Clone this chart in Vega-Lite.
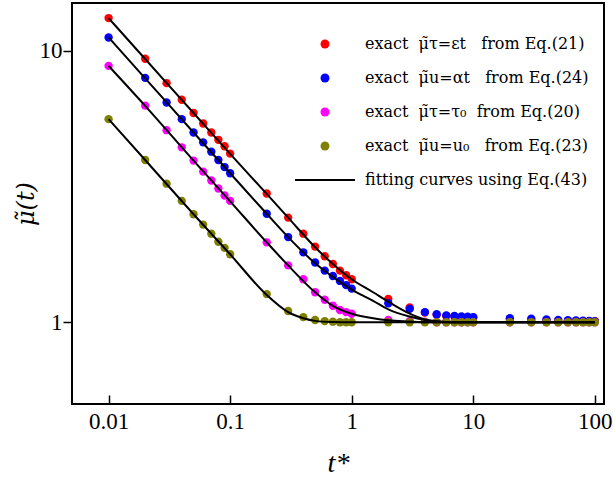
{
  "$schema": "https://vega.github.io/schema/vega-lite/v6.json",
  "autosize": "none",
  "padding": {"left": 72, "top": 3, "right": 11, "bottom": 76},
  "width": 532,
  "height": 401,
  "config": {
    "view": {"stroke": "black", "strokeWidth": 2},
    "font": "Liberation Serif",
    "axis": {
      "domain": false,
      "grid": false,
      "tickColor": "black",
      "tickWidth": 1.5,
      "labelColor": "black",
      "labelFont": "Liberation Serif",
      "labelFontSize": 23,
      "titleColor": "black",
      "titleFont": "Liberation Serif",
      "titleFontStyle": "italic",
      "titleFontWeight": "normal",
      "titleFontSize": 27
    },
    "legend": {
      "labelFont": "DejaVu Serif",
      "labelFontSize": 16,
      "labelColor": "black",
      "labelLimit": 400
    }
  },
  "datasets": {
    "pts": [
      {"t": 0.01, "mu": 13.2, "s": "r"}, {"t": 0.02, "mu": 9.35, "s": "r"}, {"t": 0.03, "mu": 7.6, "s": "r"}, {"t": 0.04, "mu": 6.6, "s": "r"}, {"t": 0.05, "mu": 5.9, "s": "r"}, {"t": 0.06, "mu": 5.4, "s": "r"}, {"t": 0.07, "mu": 5.0, "s": "r"}, {"t": 0.08, "mu": 4.7, "s": "r"}, {"t": 0.09, "mu": 4.45, "s": "r"}, {"t": 0.1, "mu": 4.18, "s": "r"},
      {"t": 0.2, "mu": 2.98, "s": "r"}, {"t": 0.3, "mu": 2.43, "s": "r"}, {"t": 0.4, "mu": 2.12, "s": "r"}, {"t": 0.5, "mu": 1.9, "s": "r"}, {"t": 0.6, "mu": 1.75, "s": "r"}, {"t": 0.7, "mu": 1.64, "s": "r"}, {"t": 0.8, "mu": 1.55, "s": "r"}, {"t": 0.9, "mu": 1.49, "s": "r"}, {"t": 1, "mu": 1.44, "s": "r"},
      {"t": 2, "mu": 1.22, "s": "r"}, {"t": 3, "mu": 1.135, "s": "r"}, {"t": 4, "mu": 1.085, "s": "r"}, {"t": 5, "mu": 1.065, "s": "r"}, {"t": 6, "mu": 1.055, "s": "r"}, {"t": 7, "mu": 1.05, "s": "r"}, {"t": 8, "mu": 1.045, "s": "r"}, {"t": 9, "mu": 1.04, "s": "r"}, {"t": 10, "mu": 1.04, "s": "r"},
      {"t": 20, "mu": 1.02, "s": "r"}, {"t": 30, "mu": 1.015, "s": "r"}, {"t": 40, "mu": 1.012, "s": "r"}, {"t": 50, "mu": 1.01, "s": "r"}, {"t": 60, "mu": 1.01, "s": "r"}, {"t": 70, "mu": 1.01, "s": "r"}, {"t": 80, "mu": 1.01, "s": "r"}, {"t": 90, "mu": 1.01, "s": "r"}, {"t": 100, "mu": 1.01, "s": "r"},

      {"t": 0.01, "mu": 11.2, "s": "b"}, {"t": 0.02, "mu": 7.95, "s": "b"}, {"t": 0.03, "mu": 6.45, "s": "b"}, {"t": 0.04, "mu": 5.6, "s": "b"}, {"t": 0.05, "mu": 5.0, "s": "b"}, {"t": 0.06, "mu": 4.6, "s": "b"}, {"t": 0.07, "mu": 4.25, "s": "b"}, {"t": 0.08, "mu": 3.96, "s": "b"}, {"t": 0.09, "mu": 3.73, "s": "b"}, {"t": 0.1, "mu": 3.54, "s": "b"},
      {"t": 0.2, "mu": 2.51, "s": "b"}, {"t": 0.3, "mu": 2.06, "s": "b"}, {"t": 0.4, "mu": 1.81, "s": "b"}, {"t": 0.5, "mu": 1.66, "s": "b"}, {"t": 0.6, "mu": 1.55, "s": "b"}, {"t": 0.7, "mu": 1.48, "s": "b"}, {"t": 0.8, "mu": 1.42, "s": "b"}, {"t": 0.9, "mu": 1.37, "s": "b"}, {"t": 1, "mu": 1.33, "s": "b"},
      {"t": 2, "mu": 1.175, "s": "b"}, {"t": 3, "mu": 1.12, "s": "b"}, {"t": 4, "mu": 1.09, "s": "b"}, {"t": 5, "mu": 1.07, "s": "b"}, {"t": 6, "mu": 1.06, "s": "b"}, {"t": 7, "mu": 1.055, "s": "b"}, {"t": 8, "mu": 1.05, "s": "b"}, {"t": 9, "mu": 1.048, "s": "b"}, {"t": 10, "mu": 1.045, "s": "b"},
      {"t": 20, "mu": 1.035, "s": "b"}, {"t": 30, "mu": 1.03, "s": "b"}, {"t": 40, "mu": 1.025, "s": "b"}, {"t": 50, "mu": 1.02, "s": "b"}, {"t": 60, "mu": 1.018, "s": "b"}, {"t": 70, "mu": 1.016, "s": "b"}, {"t": 80, "mu": 1.014, "s": "b"}, {"t": 90, "mu": 1.012, "s": "b"}, {"t": 100, "mu": 1.01, "s": "b"},

      {"t": 0.01, "mu": 8.8, "s": "m"}, {"t": 0.02, "mu": 6.28, "s": "m"}, {"t": 0.03, "mu": 5.1, "s": "m"}, {"t": 0.04, "mu": 4.41, "s": "m"}, {"t": 0.05, "mu": 3.94, "s": "m"}, {"t": 0.06, "mu": 3.59, "s": "m"}, {"t": 0.07, "mu": 3.33, "s": "m"}, {"t": 0.08, "mu": 3.11, "s": "m"}, {"t": 0.09, "mu": 2.93, "s": "m"}, {"t": 0.1, "mu": 2.8, "s": "m"},
      {"t": 0.2, "mu": 1.97, "s": "m"}, {"t": 0.3, "mu": 1.62, "s": "m"}, {"t": 0.4, "mu": 1.44, "s": "m"}, {"t": 0.5, "mu": 1.29, "s": "m"}, {"t": 0.6, "mu": 1.21, "s": "m"}, {"t": 0.7, "mu": 1.15, "s": "m"}, {"t": 0.8, "mu": 1.11, "s": "m"}, {"t": 0.9, "mu": 1.09, "s": "m"}, {"t": 1, "mu": 1.075, "s": "m"},
      {"t": 2, "mu": 1.02, "s": "m"}, {"t": 3, "mu": 1.01, "s": "m"}, {"t": 4, "mu": 1.005, "s": "m"}, {"t": 5, "mu": 1.0, "s": "m"}, {"t": 6, "mu": 1.0, "s": "m"}, {"t": 7, "mu": 1.0, "s": "m"}, {"t": 8, "mu": 1.0, "s": "m"}, {"t": 9, "mu": 1.0, "s": "m"}, {"t": 10, "mu": 1.0, "s": "m"},
      {"t": 20, "mu": 1.0, "s": "m"}, {"t": 30, "mu": 1.0, "s": "m"}, {"t": 40, "mu": 1.0, "s": "m"}, {"t": 50, "mu": 1.0, "s": "m"}, {"t": 60, "mu": 1.0, "s": "m"}, {"t": 70, "mu": 1.0, "s": "m"}, {"t": 80, "mu": 1.0, "s": "m"}, {"t": 90, "mu": 1.0, "s": "m"}, {"t": 100, "mu": 1.0, "s": "m"},

      {"t": 0.01, "mu": 5.6, "s": "o"}, {"t": 0.02, "mu": 3.96, "s": "o"}, {"t": 0.03, "mu": 3.24, "s": "o"}, {"t": 0.04, "mu": 2.8, "s": "o"}, {"t": 0.05, "mu": 2.5, "s": "o"}, {"t": 0.06, "mu": 2.29, "s": "o"}, {"t": 0.07, "mu": 2.12, "s": "o"}, {"t": 0.08, "mu": 1.98, "s": "o"}, {"t": 0.09, "mu": 1.88, "s": "o"}, {"t": 0.1, "mu": 1.78, "s": "o"},
      {"t": 0.2, "mu": 1.27, "s": "o"}, {"t": 0.3, "mu": 1.1, "s": "o"}, {"t": 0.4, "mu": 1.045, "s": "o"}, {"t": 0.5, "mu": 1.02, "s": "o"}, {"t": 0.6, "mu": 1.01, "s": "o"}, {"t": 0.7, "mu": 1.005, "s": "o"}, {"t": 0.8, "mu": 1.0, "s": "o"}, {"t": 0.9, "mu": 1.0, "s": "o"}, {"t": 1, "mu": 1.0, "s": "o"},
      {"t": 2, "mu": 1.0, "s": "o"}, {"t": 3, "mu": 1.0, "s": "o"}, {"t": 4, "mu": 1.0, "s": "o"}, {"t": 5, "mu": 1.0, "s": "o"}, {"t": 6, "mu": 1.0, "s": "o"}, {"t": 7, "mu": 1.0, "s": "o"}, {"t": 8, "mu": 1.0, "s": "o"}, {"t": 9, "mu": 1.0, "s": "o"}, {"t": 10, "mu": 1.0, "s": "o"},
      {"t": 20, "mu": 1.0, "s": "o"}, {"t": 30, "mu": 1.0, "s": "o"}, {"t": 40, "mu": 1.0, "s": "o"}, {"t": 50, "mu": 1.0, "s": "o"}, {"t": 60, "mu": 1.0, "s": "o"}, {"t": 70, "mu": 1.0, "s": "o"}, {"t": 80, "mu": 1.0, "s": "o"}, {"t": 90, "mu": 1.0, "s": "o"}, {"t": 100, "mu": 1.0, "s": "o"}
    ],
    "fit": [
      {"t": 0.01, "mu": 13.2, "c": "r"}, {"t": 0.02, "mu": 9.33, "c": "r"}, {"t": 0.05, "mu": 5.9, "c": "r"}, {"t": 0.1, "mu": 4.17, "c": "r"}, {"t": 0.2, "mu": 2.97, "c": "r"}, {"t": 0.3, "mu": 2.43, "c": "r"}, {"t": 0.5, "mu": 1.89, "c": "r"}, {"t": 0.7, "mu": 1.64, "c": "r"}, {"t": 1, "mu": 1.44, "c": "r"}, {"t": 1.5, "mu": 1.29, "c": "r"}, {"t": 2, "mu": 1.19, "c": "r"}, {"t": 3, "mu": 1.076, "c": "r"}, {"t": 4, "mu": 1.025, "c": "r"}, {"t": 5, "mu": 1.008, "c": "r"}, {"t": 7, "mu": 1.0, "c": "r"}, {"t": 100, "mu": 1.0, "c": "r"},
      {"t": 0.01, "mu": 11.2, "c": "b"}, {"t": 0.02, "mu": 7.92, "c": "b"}, {"t": 0.05, "mu": 5.0, "c": "b"}, {"t": 0.1, "mu": 3.54, "c": "b"}, {"t": 0.2, "mu": 2.51, "c": "b"}, {"t": 0.3, "mu": 2.06, "c": "b"}, {"t": 0.5, "mu": 1.65, "c": "b"}, {"t": 0.7, "mu": 1.47, "c": "b"}, {"t": 1, "mu": 1.32, "c": "b"}, {"t": 1.5, "mu": 1.2, "c": "b"}, {"t": 2, "mu": 1.116, "c": "b"}, {"t": 3, "mu": 1.05, "c": "b"}, {"t": 4, "mu": 1.02, "c": "b"}, {"t": 5, "mu": 1.006, "c": "b"}, {"t": 7, "mu": 1.0, "c": "b"}, {"t": 100, "mu": 1.0, "c": "b"},
      {"t": 0.01, "mu": 8.8, "c": "m"}, {"t": 0.02, "mu": 6.27, "c": "m"}, {"t": 0.05, "mu": 3.94, "c": "m"}, {"t": 0.1, "mu": 2.79, "c": "m"}, {"t": 0.2, "mu": 1.97, "c": "m"}, {"t": 0.3, "mu": 1.62, "c": "m"}, {"t": 0.5, "mu": 1.29, "c": "m"}, {"t": 0.7, "mu": 1.15, "c": "m"}, {"t": 1, "mu": 1.075, "c": "m"}, {"t": 1.5, "mu": 1.035, "c": "m"}, {"t": 2, "mu": 1.017, "c": "m"}, {"t": 3, "mu": 1.006, "c": "m"}, {"t": 4, "mu": 1.0, "c": "m"}, {"t": 100, "mu": 1.0, "c": "m"},
      {"t": 0.01, "mu": 5.6, "c": "o"}, {"t": 0.02, "mu": 3.96, "c": "o"}, {"t": 0.05, "mu": 2.5, "c": "o"}, {"t": 0.1, "mu": 1.78, "c": "o"}, {"t": 0.2, "mu": 1.26, "c": "o"}, {"t": 0.3, "mu": 1.09, "c": "o"}, {"t": 0.4, "mu": 1.035, "c": "o"}, {"t": 0.5, "mu": 1.012, "c": "o"}, {"t": 0.7, "mu": 1.002, "c": "o"}, {"t": 1, "mu": 1.0, "c": "o"}, {"t": 100, "mu": 1.0, "c": "o"}
    ]
  },
  "encoding": {
    "x": {
      "field": "t", "type": "quantitative",
      "scale": {"type": "log", "domain": [0.005, 119], "nice": false},
      "axis": {
        "values": [0.01, 0.1, 1, 10, 100],
        "labelExpr": "'' + datum.value",
        "tickSize": -9,
        "labelPadding": 15,
        "title": "t*",
        "titleY": 45,
        "titleBaseline": "top",
        "titleFontSize": 28
      }
    },
    "y": {
      "field": "mu", "type": "quantitative",
      "scale": {"type": "log", "domain": [0.5, 15], "nice": false},
      "axis": {
        "values": [1, 10],
        "labelExpr": "'' + datum.value",
        "tickSize": 9,
        "labelPadding": 1,
        "title": "μ̃(t)",
        "titleFont": "DejaVu Serif",
        "titleFontSize": 24,
        "titlePadding": 1
      }
    }
  },
  "layer": [
    {
      "data": {"name": "pts"},
      "mark": {"type": "point", "filled": true, "opacity": 1, "size": 70},
      "encoding": {
        "color": {
          "field": "s", "type": "nominal",
          "scale": {"domain": ["r", "b", "m", "o", "fit"], "range": ["#ff0000", "#0000ff", "#ff00ff", "#808000", "#000000"]},
          "legend": {
            "title": null,
            "orient": "none",
            "legendX": 245,
            "legendY": 33,
            "padding": 0,
            "symbolSize": 80,
            "symbolStrokeWidth": 0,
            "labelOffset": 32,
            "rowPadding": 18,
            "labelExpr": "{'r': 'exact\u00a0\u00a0μ̃τ=εt\u00a0\u00a0 from Eq.(21)', 'b': 'exact\u00a0\u00a0μ̃u=αt\u00a0\u00a0 from Eq.(24)', 'm': 'exact\u00a0\u00a0μ̃τ=τ₀\u00a0\u00a0from Eq.(20)', 'o': 'exact\u00a0\u00a0μ̃u=u₀\u00a0\u00a0 from Eq.(23)', 'fit': 'fitting curves using Eq.(43)'}[datum.value]"
          }
        },
        "shape": {
          "field": "s", "type": "nominal",
          "scale": {"domain": ["r", "b", "m", "o", "fit"], "range": ["circle", "circle", "circle", "circle", "M-6.7,-0.22H6.7V0.22H-6.7Z"]},
          "legend": null
        }
      }
    },
    {
      "data": {"name": "fit"},
      "mark": {"type": "line", "color": "black", "strokeWidth": 2, "interpolate": "monotone"},
      "encoding": {
        "detail": {"field": "c", "type": "nominal"}
      }
    }
  ]
}
